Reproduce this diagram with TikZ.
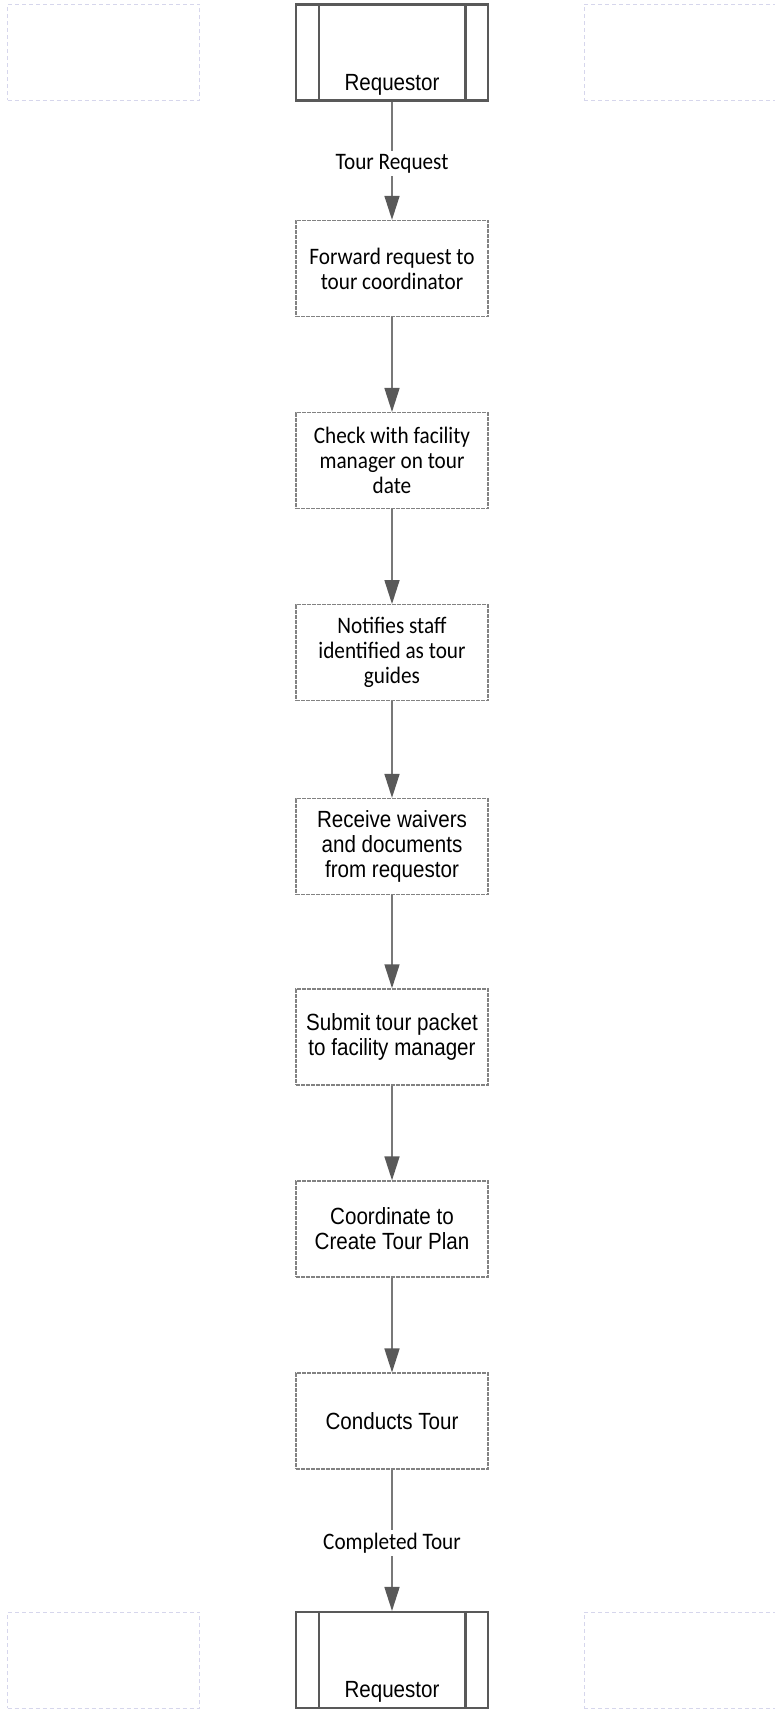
\documentclass[tikz,border=0pt]{standalone}
\usepackage{fontspec}
\usetikzlibrary{arrows.meta}
\newfontfamily\arialf[FakeStretch=0.88]{Liberation Sans}
\newfontfamily\calf[FakeStretch=0.9]{Carlito}
\definecolor{linegray}{RGB}{120,120,120}
\definecolor{headgray}{RGB}{89,89,89}
\definecolor{boxgray}{RGB}{130,130,130}
\definecolor{ghostc}{RGB}{214,214,236}
\tikzset{
  afont/.style={font=\arialf\fontsize{23.4}{25}\selectfont},
  cfont/.style={font=\calf\fontsize{23.6}{25}\selectfont},
  procbox/.style={draw=boxgray, line width=1.3pt, dash pattern=on 4pt off 1pt, fill=white,
    minimum width=192pt, minimum height=96pt, inner sep=0pt, align=center},
  reqbox/.style={draw=headgray, line width=2.5pt, fill=white,
    minimum width=192pt, minimum height=96pt, inner sep=0pt},
  reqline/.style={draw=headgray, line width=2.5pt},
  ghostbox/.style={draw=ghostc, line width=0.9pt, dash pattern=on 4pt off 3pt,
    minimum width=192pt, minimum height=96pt, inner sep=0pt},
  arr/.style={draw=linegray, line width=1.6pt, -{Triangle[length=24pt,width=15pt,color=headgray]}},
  elabel/.style={cfont, fill=white, inner sep=3pt, yshift=-3pt}
}
\begin{document}
\begin{tikzpicture}[x=1pt,y=-1pt]
\useasboundingbox (0,0) rectangle (775,1712);
% ghost boxes
\node[ghostbox] (g1) at (103.6,52.4) {};
\node[ghostbox] (g2) at (680,52.4) {};
\node[ghostbox] (g3) at (103.6,1660.2) {};
\node[ghostbox] (g4) at (680,1660.2) {};
% requestor top
\node[reqbox] (r1) at (392,52.4) {};
\draw[reqline] ([xshift=24pt]r1.north west) -- ([xshift=24pt]r1.south west);
\draw[reqline] ([xshift=-24pt]r1.north east) -- ([xshift=-24pt]r1.south east);
\node[afont] (r1t) at (392,84.5) {Requestor};
% process boxes
\node[procbox,cfont] (b1) at (392,268.5) {Forward request to\\tour coordinator};
\node[procbox,cfont] (b2) at (392,460.6) {Check with facility\\manager on tour\\date};
\node[procbox,cfont] (b3) at (392,652.7) {Notifies staff\\identified as tour\\guides};
\node[procbox,afont] (b4) at (392,846.5) {Receive waivers\\and documents\\from requestor};
\node[procbox,afont] (b5) at (392,1036.9) {Submit tour packet\\to facility manager};
\node[procbox,afont] (b6) at (392,1229) {Coordinate to\\Create Tour Plan};
\node[procbox,afont] (b7) at (392,1421.1) {Conducts Tour};
% requestor bottom
\node[reqbox] (r2) at (392,1660.2) {};
\draw[reqline] ([xshift=24pt]r2.north west) -- ([xshift=24pt]r2.south west);
\draw[reqline] ([xshift=-24pt]r2.north east) -- ([xshift=-24pt]r2.south east);
\node[afont] (r2t) at (392,1692) {Requestor};
% connectors
\draw[arr] (r1) -- node[elabel] {Tour Request} (b1);
\draw[arr] (b1) -- (b2);
\draw[arr] (b2) -- (b3);
\draw[arr] (b3) -- (b4);
\draw[arr] (b4) -- (b5);
\draw[arr] (b5) -- (b6);
\draw[arr] (b6) -- (b7);
\draw[arr] (b7) -- node[elabel] {Completed Tour} (r2);
\end{tikzpicture}
\end{document}
